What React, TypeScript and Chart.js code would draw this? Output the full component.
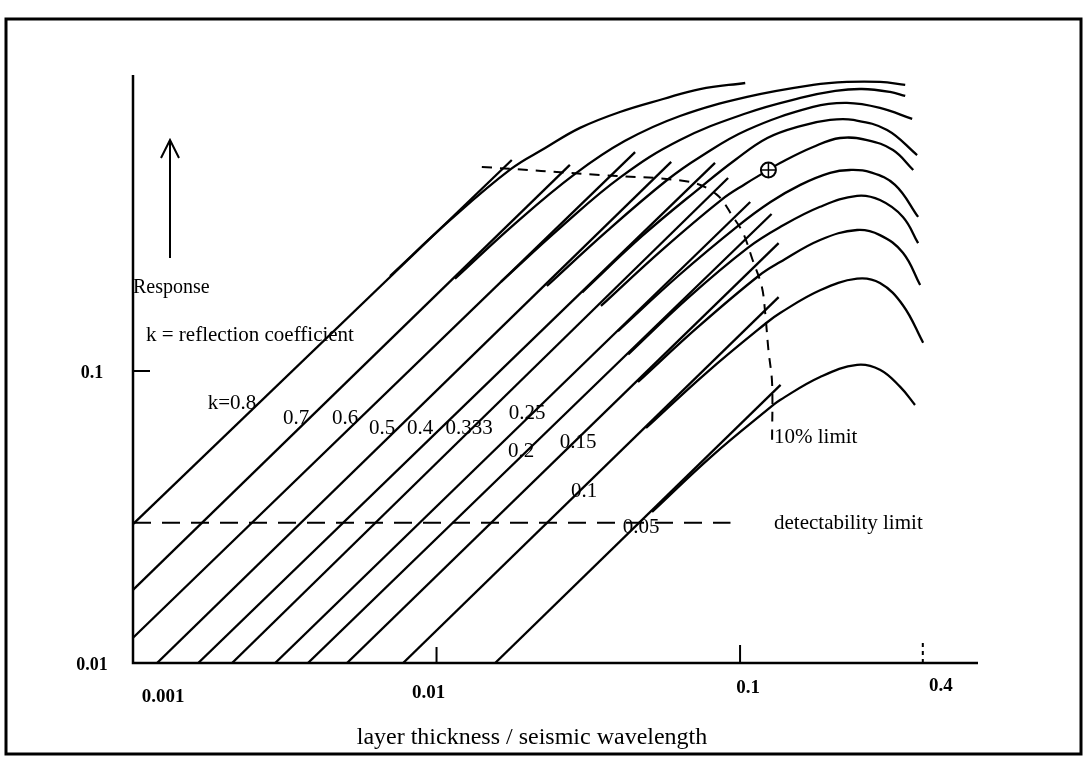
import { useEffect, useRef } from "react";
import { Chart, registerables } from "chart.js";

Chart.register(...registerables);

type Pt = [number, number];

// Axis ticks (layer thickness / wavelength, and response)
const thicknessTicks = [0.001, 0.01, 0.1, 0.4];
const responseTicks = [0.01, 0.1];

// Reflection coefficients and their curve labels
const kValues = [0.8, 0.7, 0.6, 0.5, 0.4, 0.333, 0.25, 0.2, 0.15, 0.1, 0.05];
const kLabels = ["k=0.8", "0.7", "0.6", "0.5", "0.4", "0.333", "0.25", "0.2", "0.15", "0.1", "0.05"];

// Thin-bed asymptotes: [thickness, response] start and end
const tangentK08: Pt[] = [[0.001, 0.0299], [0.0177, 0.528]];
const tangentK07: Pt[] = [[0.001, 0.0178], [0.0275, 0.508]];
const tangentK06: Pt[] = [[0.001, 0.0122], [0.0451, 0.562]];
const tangentK05: Pt[] = [[0.0012, 0.01], [0.0593, 0.52]];
const tangentK04: Pt[] = [[0.00164, 0.01], [0.0827, 0.516]];
const tangentK0333: Pt[] = [[0.00212, 0.01], [0.0913, 0.458]];
const tangentK025: Pt[] = [[0.00294, 0.01], [0.108, 0.379]];
const tangentK02: Pt[] = [[0.00377, 0.01], [0.127, 0.345]];
const tangentK015: Pt[] = [[0.00507, 0.01], [0.134, 0.274]];
const tangentK01: Pt[] = [[0.00776, 0.01], [0.134, 0.179]];
const tangentK005: Pt[] = [[0.0156, 0.01], [0.136, 0.0896]];

// Tuning curves where they leave the asymptote
const curveK08: Pt[] = [[0.00703, 0.2115], [0.0111, 0.329], [0.0176, 0.492], [0.0228, 0.58], [0.0297, 0.68], [0.0402, 0.771], [0.0558, 0.854], [0.0738, 0.924], [0.104, 0.969]];
const curveK07: Pt[] = [[0.0115, 0.207], [0.0181, 0.319], [0.0286, 0.473], [0.0418, 0.614], [0.0634, 0.747], [0.1055, 0.868], [0.174, 0.954], [0.225, 0.977], [0.289, 0.977], [0.35, 0.954]];
const curveK06: Pt[] = [[0.0163, 0.202], [0.0257, 0.311], [0.0405, 0.462], [0.0634, 0.618], [0.1055, 0.765], [0.158, 0.861], [0.206, 0.91], [0.252, 0.924], [0.312, 0.903], [0.35, 0.875]];
const curveK05: Pt[] = [[0.0231, 0.1955], [0.0365, 0.302], [0.0575, 0.451], [0.0738, 0.541], [0.1055, 0.669], [0.174, 0.802], [0.225, 0.828], [0.289, 0.796], [0.369, 0.73]];
const curveK04: Pt[] = [[0.0302, 0.186], [0.0476, 0.29], [0.075, 0.43], [0.0963, 0.528], [0.123, 0.628], [0.158, 0.69], [0.198, 0.724], [0.236, 0.724], [0.305, 0.669], [0.383, 0.549]];
const curveK0333: Pt[] = [[0.0348, 0.167], [0.0549, 0.258], [0.0866, 0.385], [0.104, 0.437], [0.124, 0.488], [0.1355, 0.516], [0.174, 0.585], [0.2135, 0.628], [0.262, 0.618], [0.319, 0.571], [0.372, 0.488]];
const curveK025: Pt[] = [[0.0396, 0.137], [0.0625, 0.2115], [0.0985, 0.314], [0.126, 0.379], [0.158, 0.434], [0.198, 0.477], [0.23, 0.488], [0.268, 0.48], [0.324, 0.434], [0.386, 0.337]];
const curveK02: Pt[] = [[0.0428, 0.114], [0.0674, 0.178], [0.106, 0.264], [0.1355, 0.311], [0.1835, 0.365], [0.243, 0.398], [0.289, 0.385], [0.344, 0.337], [0.386, 0.274]];
const curveK015: Pt[] = [[0.0461, 0.0917], [0.0727, 0.1415], [0.115, 0.2115], [0.1355, 0.236], [0.1835, 0.281], [0.243, 0.304], [0.289, 0.292], [0.344, 0.254], [0.392, 0.197]];
const curveK01: Pt[] = [[0.049, 0.0638], [0.0773, 0.0984], [0.122, 0.146], [0.1355, 0.158], [0.1835, 0.189], [0.243, 0.207], [0.289, 0.2], [0.344, 0.168], [0.401, 0.125]];
const curveK005: Pt[] = [[0.0513, 0.0329], [0.0809, 0.0512], [0.1275, 0.0759], [0.1355, 0.0796], [0.1835, 0.0954], [0.243, 0.105], [0.289, 0.101], [0.337, 0.0882], [0.377, 0.0765]];

// Limits
const tenPercentLimit: Pt[] = [[0.0141, 0.5], [0.0346, 0.469], [0.0684, 0.444], [0.084, 0.401], [0.0948, 0.337], [0.1023, 0.297], [0.11, 0.24], [0.118, 0.194], [0.121, 0.158], [0.124, 0.118], [0.1275, 0.091], [0.1275, 0.058]];
const detectabilityLimit: Pt[] = [[0.001, 0.0302], [0.093, 0.0302]];
const markedPoint: Pt[] = [[0.124, 0.488]];

const tangents = [tangentK08, tangentK07, tangentK06, tangentK05, tangentK04, tangentK0333, tangentK025, tangentK02, tangentK015, tangentK01, tangentK005];
const curves = [curveK08, curveK07, curveK06, curveK05, curveK04, curveK0333, curveK025, curveK02, curveK015, curveK01, curveK005];

const SERIF = '"Liberation Serif", "Times New Roman", serif';
const toXY = (pts: Pt[]) => pts.map(([x, y]) => ({ x, y }));

const decorations = {
  id: "decorations",
  afterDraw(chart: any) {
    const { ctx, chartArea: a } = chart;
    const xs = chart.scales.x;
    const ys = chart.scales.y;
    ctx.save();
    ctx.strokeStyle = "#000";
    ctx.fillStyle = "#000";

    // page frame
    ctx.lineWidth = 3;
    ctx.strokeRect(6, 19, 1075, 735);

    // axes
    ctx.lineWidth = 2.5;
    ctx.beginPath();
    ctx.moveTo(a.left, a.top);
    ctx.lineTo(a.left, a.bottom);
    ctx.lineTo(a.right, a.bottom);
    ctx.stroke();

    // inner tick marks
    ctx.lineWidth = 2;
    const y01 = ys.getPixelForValue(0.1);
    ctx.beginPath();
    ctx.moveTo(a.left, y01);
    ctx.lineTo(a.left + 17, y01);
    ctx.stroke();
    const tickLen = [0, 16, 18, 22];
    thicknessTicks.forEach((v, i) => {
      if (!tickLen[i]) return;
      const px = xs.getPixelForValue(v);
      ctx.setLineDash(i === 3 ? [4, 4] : []);
      ctx.beginPath();
      ctx.moveTo(px, a.bottom);
      ctx.lineTo(px, a.bottom - tickLen[i]);
      ctx.stroke();
    });
    ctx.setLineDash([]);

    // tick labels
    ctx.font = `bold 19px ${SERIF}`;
    ctx.textAlign = "center";
    ctx.textBaseline = "middle";
    const xShift = [30, -8, 8, 18];
    const yShift = [6, 2, -3, -5];
    thicknessTicks.forEach((v, i) => {
      ctx.fillText(String(v), xs.getPixelForValue(v) + xShift[i], 691 + yShift[i]);
    });
    ctx.font = `bold 18px ${SERIF}`;
    responseTicks.forEach((v) => {
      ctx.fillText(String(v), 92, ys.getPixelForValue(v) + 2);
    });

    // axis title
    ctx.font = `24px ${SERIF}`;
    ctx.fillText("layer thickness / seismic wavelength", 532, 738);

    // left annotations
    ctx.font = `20px ${SERIF}`;
    ctx.textAlign = "left";
    ctx.fillText("Response", 133, 288);
    ctx.font = `21px ${SERIF}`;
    ctx.fillText("k = reflection coefficient", 146, 335);

    // arrow
    ctx.lineWidth = 2;
    ctx.beginPath();
    ctx.moveTo(170, 258);
    ctx.lineTo(170, 142);
    ctx.moveTo(161, 158);
    ctx.lineTo(170, 140);
    ctx.lineTo(179, 158);
    ctx.stroke();

    // curve labels
    ctx.textAlign = "center";
    ctx.font = `21px ${SERIF}`;
    const labelPos: [number, number][] = [
      [232, 403], [296, 418], [345, 418], [382, 428], [420, 428], [469, 428],
      [527, 413], [521, 451], [578, 442], [584, 491], [641, 527],
    ];
    kLabels.forEach((t, i) => ctx.fillText(t, labelPos[i][0], labelPos[i][1]));

    ctx.textAlign = "left";
    ctx.fillText("10% limit", 774, 437);
    ctx.fillText("detectability limit", 774, 523);
    ctx.restore();
  },
};

export default function App() {
  const ref = useRef<HTMLCanvasElement>(null);

  useEffect(() => {
    document.body.style.margin = "0";
    const line = { showLine: true, pointRadius: 0, borderColor: "#000", fill: false };
    const datasets: any[] = [
      {
        label: "marker cross",
        data: toXY(markedPoint),
        pointStyle: "cross",
        pointRadius: 7,
        borderColor: "#000",
        borderWidth: 1.5,
        showLine: false,
      },
      {
        label: "marker",
        data: toXY(markedPoint),
        pointStyle: "circle",
        pointRadius: 7.5,
        backgroundColor: "#fff",
        borderColor: "#000",
        borderWidth: 2,
        showLine: false,
      },
      ...curves.map((c, i) => ({
        ...line,
        label: `k=${kValues[i]}`,
        data: toXY(c),
        borderWidth: 2.3,
        tension: 0.4,
      })),
      ...tangents.map((c, i) => ({
        ...line,
        label: `asymptote k=${kValues[i]}`,
        data: toXY(c),
        borderWidth: 2.3,
        tension: 0,
      })),
      {
        ...line,
        label: "10% limit",
        data: toXY(tenPercentLimit),
        borderWidth: 2,
        borderDash: [10, 8],
        tension: 0.35,
      },
      {
        ...line,
        label: "detectability limit",
        data: toXY(detectabilityLimit),
        borderWidth: 2,
        borderDash: [18, 11],
        tension: 0,
      },
    ];

    const chart = new Chart(ref.current!, {
      type: "scatter",
      data: { datasets },
      options: {
        responsive: false,
        animation: false,
        events: [],
        layout: { padding: { left: 133, right: 111, top: 75, bottom: 95 } },
        scales: {
          x: { type: "logarithmic", min: 0.001, max: 0.608, display: false },
          y: { type: "logarithmic", min: 0.01, max: 1.032, display: false },
        },
        plugins: { legend: { display: false }, tooltip: { enabled: false } },
      },
      plugins: [decorations],
    });
    return () => chart.destroy();
  }, []);

  return (
    <div style={{ width: 1089, height: 758, background: "#fff" }}>
      <canvas ref={ref} width={1089} height={758} style={{ display: "block" }} />
    </div>
  );
}
